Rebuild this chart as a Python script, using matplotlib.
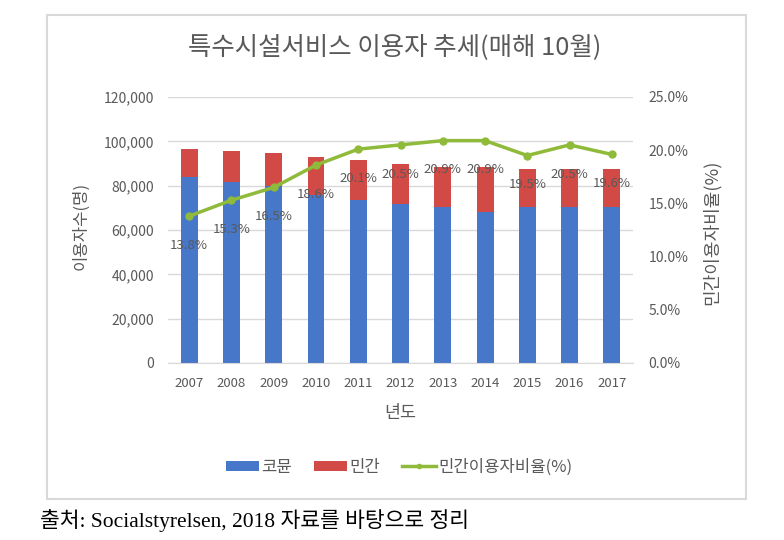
import matplotlib
matplotlib.use("Agg")
import matplotlib.pyplot as plt
from matplotlib.patches import Rectangle
from matplotlib.ticker import FuncFormatter, MultipleLocator
import numpy as np

plt.rcParams['font.family'] = ['Noto Sans CJK KR', 'DejaVu Sans']

years = ['2007', '2008', '2009', '2010', '2011', '2012', '2013', '2014', '2015', '2016', '2017']
public = [83900, 81600, 79800, 75600, 73500, 71700, 70400, 68100, 70400, 70400, 70400]
private = [12600, 14000, 14900, 17300, 18100, 18200, 18000, 20300, 17100, 17100, 17100]
ratio = [13.8, 15.3, 16.5, 18.6, 20.1, 20.5, 20.9, 20.9, 19.5, 20.5, 19.6]

blue = '#4677c8'
red = '#d24a45'
green = '#8fba3a'
gray = '#595959'

fig = plt.figure(figsize=(7.84, 5.40), dpi=100)

# chart border
fig.patches.append(Rectangle((47/784, 1-499/540), (746-47)/784, (499-15)/540,
                             transform=fig.transFigure, fill=False,
                             edgecolor='#d9d9d9', linewidth=1.5))

ax = fig.add_axes([168/784, 1-363/540, (633-168)/784, (363-97)/540])
x = np.arange(len(years))
ax.bar(x, public, width=0.4, color=blue, label='코뮨', zorder=2)
ax.bar(x, private, width=0.4, bottom=public, color=red, label='민간', zorder=2)
ax.set_xlim(-0.5, len(years) - 0.5)
ax.set_ylim(0, 120000)
ax.yaxis.set_major_locator(MultipleLocator(20000))
ax.yaxis.set_major_formatter(FuncFormatter(lambda v, p: f'{int(v):,}'))
ax.set_xticks(x)
ax.set_xticklabels(years)
ax.grid(axis='y', color='#d9d9d9', linewidth=1, zorder=0)
for s in ['top', 'right', 'left']:
    ax.spines[s].set_visible(False)
ax.spines['bottom'].set_color('#d9d9d9')
ax.tick_params(length=0, colors=gray, labelsize=9.5)
ax.tick_params(axis='y', labelsize=10, pad=10)
ax.tick_params(axis='x', pad=10)
ax.set_xlabel('년도', color=gray, fontsize=12.5, labelpad=10)

ax2 = ax.twinx()
ln, = ax2.plot(x, ratio, color=green, linewidth=2.5, marker='o', markersize=5,
               label='민간이용자비율(%)', zorder=3)
ax2.set_ylim(0, 25)
ax2.yaxis.set_major_locator(MultipleLocator(5))
ax2.yaxis.set_major_formatter(FuncFormatter(lambda v, p: f'{v:.1f}%'))
for s in ax2.spines.values():
    s.set_visible(False)
ax2.tick_params(length=0, colors=gray, labelsize=10, pad=11)
for xi, r in zip(x, ratio):
    ax2.annotate(f'{r:.1f}%', (xi, r), xytext=(0, -21), textcoords='offset points',
                 ha='center', va='center', fontsize=9.5, color=gray)

fig.text(81/784, 1-226/540, '이용자수(명)', rotation=90, ha='center', va='center',
         color=gray, fontsize=12)
fig.text(711/784, 1-232/540, '민간이용자비율(%)', rotation=90, ha='center', va='center',
         color=gray, fontsize=13)
fig.text(395/784, 1-47/540, '특수시설서비스 이용자 추세(매해 10월)', ha='center', va='center',
         color=gray, fontsize=18.3)

h1, l1 = ax.get_legend_handles_labels()
fig.legend(h1 + [ln], l1 + ['민간이용자비율(%)'], loc='center', ncol=3,
           bbox_to_anchor=(399/784, 1-467/540), frameon=False, fontsize=12,
           labelcolor=gray, handlelength=2.0, handleheight=0.55,
           columnspacing=1.3, handletextpad=0.15, markerscale=0.6)

fig.text(40/784, 1-521/540, '출처: Socialstyrelsen, 2018 자료를 바탕으로 정리',
         ha='left', va='center', color='black', fontsize=15.5,
         family=['Liberation Serif', 'Noto Sans CJK KR'])

fig.savefig('out.png', dpi=100)
